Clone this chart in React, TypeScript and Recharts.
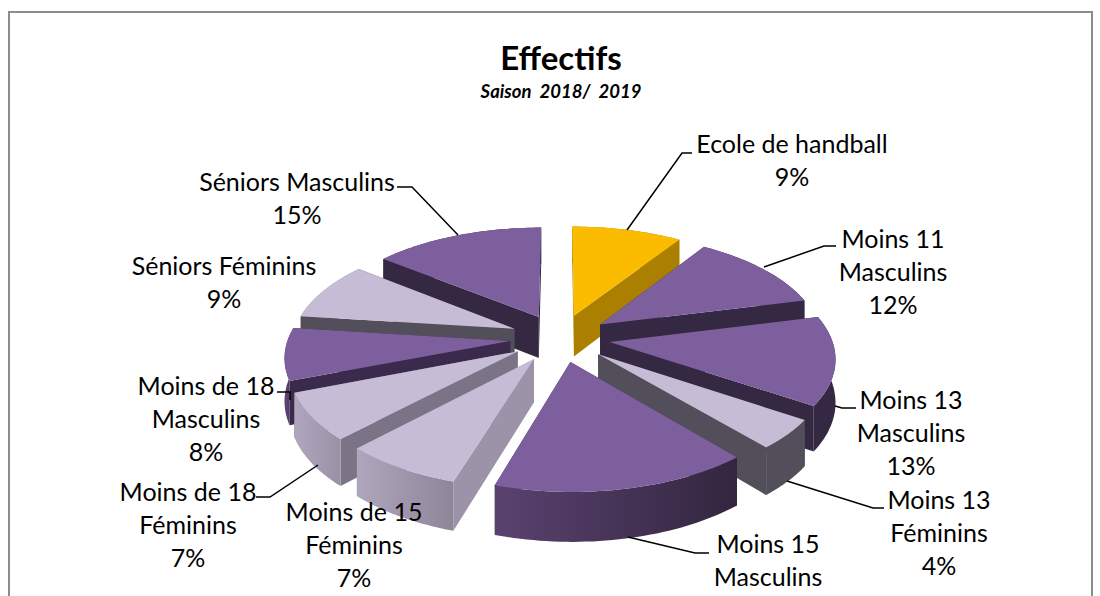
import React from "react";
import { PieChart, Pie } from "recharts";

const categories = [
  "Ecole de handball",
  "Moins 11\nMasculins",
  "Moins 13\nMasculins",
  "Moins 13\nFéminins",
  "Moins 15\nMasculins",
  "Moins de 15\nFéminins",
  "Moins de 18\nFéminins",
  "Moins de 18\nMasculins",
  "Séniors Féminins",
  "Séniors Masculins",
];
// Slice widths as measured on the picture, and the rounded percentages it prints
const shares = [9.2, 11.9, 13.2, 4.4, 16.0, 7.4, 7.0, 7.8, 8.7, 14.3];
const percentLabels = [9, 12, 13, 4, 16, 7, 7, 8, 9, 15];

const topColors = ["#FBBC00", "#7E5F9D", "#7E5F9D", "#C6BCD6", "#7E5F9D", "#C6BCD6", "#C6BCD6", "#7E5F9D", "#C6BCD6", "#7E5F9D"];
const cutColors = ["#AB8000", "#352842", "#352842", "#524E5A", "#352842", "#9C93A8", "#7A7486", "#3A2A4C", "#524E5A", "#352842"];
const wallFrom = ["#AB8000", "#352842", "#352842", "#524E5A", "#5A4270", "#AFA6BD", "#B0A7BE", "#5B4577", "#8F8599", "#352842"];
const wallTo = ["#AB8000", "#352842", "#352842", "#524E5A", "#33263F", "#8F8599", "#9A90A6", "#4A3763", "#8F8599", "#352842"];

// Label anchors: centre x, first-line centre y
const labelX = [792, 893, 911, 939, 768, 354, 188, 206, 224, 297];
const labelY = [143, 238, 399, 499, 543, 511, 491, 385, 265, 181];
const leaders: number[][][] = [
  [[627, 230], [682, 153], [692, 153]],
  [[764, 267], [824, 246], [836, 246]],
  [[835, 406], [842, 408], [856, 408]],
  [[787, 481], [873, 508], [884, 508]],
  [[628, 537], [695, 553], [709, 553]],
  [],
  [[318, 465], [270, 497], [256, 497]],
  [[277, 392], [290, 392], [290, 400]],
  [],
  [[458, 235], [412, 187], [397, 187]],
];

const FONT = "Lato, Carlito, sans-serif";
const LINE = 33;
const TILT = 0.478;
const PERSP = 0.13;
const EXPLODE = 50;
const DEPTH = 42;
const RAD = Math.PI / 180;

const table = categories.map((name, i) => ({ name, value: shares[i], i }));
const reversedTable = [...table].reverse();

type Pt = [number, number];
function geometry(p: any) {
  const { cx, cy, outerRadius: R, startAngle, endAngle } = p;
  const mid = (startAngle + endAngle) / 2;
  const ox = EXPLODE * Math.cos(mid * RAD);
  const oy = -EXPLODE * Math.sin(mid * RAD);
  const project = (X: number, Y: number, z: number): Pt => {
    const s = 1 / (1 - (PERSP * Y) / R);
    return [cx + X * s, cy + Y * s * TILT + z * s];
  };
  const ground: Pt[] = [];
  const steps = 40;
  for (let k = 0; k <= steps; k++) {
    const a = (startAngle + ((endAngle - startAngle) * k) / steps) * RAD;
    ground.push([ox + R * Math.cos(a), oy - R * Math.sin(a)]);
  }
  return { project, ground, apex: [ox, oy] as Pt };
}
const toPath = (pts: Pt[]) => "M" + pts.map((q) => q[0].toFixed(1) + "," + q[1].toFixed(1)).join("L") + "Z";
const idx = (p: any): number => p.i ?? p.payload?.i ?? 0;

function makeWalls(p: any) {
  const i = idx(p);
  const { project, ground, apex } = geometry(p);
  const quad = (a: Pt, b: Pt): Pt[] => [project(a[0], a[1], 0), project(b[0], b[1], 0), project(b[0], b[1], DEPTH), project(a[0], a[1], DEPTH)];
  const first = ground[0];
  const last = ground[ground.length - 1];
  const arcTop = ground.map((g) => project(g[0], g[1], 0));
  const arcBottom = ground.map((g) => project(g[0], g[1], DEPTH)).reverse();
  const arcPts = [...arcTop, ...arcBottom];
  const xs = arcPts.map((q) => q[0]);
  const gid = "wall-" + i;
  const arcY = ground.reduce((s, g) => s + g[1], 0) / ground.length;
  const faces = [
    { y: (apex[1] + first[1]) / 2, d: toPath(quad(apex, first)), fill: cutColors[i] },
    { y: (apex[1] + last[1]) / 2, d: toPath(quad(apex, last)), fill: cutColors[i] },
    { y: arcY, d: toPath(arcPts), fill: `url(#${gid})` },
  ].sort((a, b) => a.y - b.y);
  return (
    <g>
      <defs>
        <linearGradient id={gid} gradientUnits="userSpaceOnUse" x1={Math.min(...xs)} x2={Math.max(...xs)} y1={0} y2={0}>
          <stop offset="0" stopColor={wallFrom[i]} />
          <stop offset="1" stopColor={wallTo[i]} />
        </linearGradient>
      </defs>
      {faces.map((f, k) => (
        <path key={k} d={f.d} fill={f.fill} />
      ))}
    </g>
  );
}
const LeftWalls = (p: any) => (idx(p) >= 5 ? makeWalls(p) : <g />);
const RightWalls = (p: any) => (idx(p) < 5 ? makeWalls(p) : <g />);
const TopFace = (p: any) => {
  const { project, ground, apex } = geometry(p);
  const pts = [project(apex[0], apex[1], 0), ...ground.map((g) => project(g[0], g[1], 0))];
  return <path d={toPath(pts)} fill={topColors[idx(p)]} />;
};

const SliceLabel = (p: any) => {
  const i = idx(p);
  const lines = [...categories[i].split("\n"), percentLabels[i] + "%"];
  return (
    <g>
      {leaders[i].length > 0 && (
        <polyline points={leaders[i].map((q) => q.join(",")).join(" ")} fill="none" stroke="#000" strokeWidth={1.5} />
      )}
      <text textAnchor="middle" fontFamily={FONT} fontSize={25} fill="#000">
        {lines.map((l, k) =>
          labelY[i] + k * LINE < 590 ? (
            <tspan key={k} x={labelX[i]} y={labelY[i] + k * LINE} dominantBaseline="central">
              {l}
            </tspan>
          ) : null
        )}
      </text>
    </g>
  );
};

const pieGeom = { dataKey: "value", nameKey: "name", cx: 560, cy: 338, innerRadius: 0, outerRadius: 222, stroke: "none", isAnimationActive: false, labelLine: false };

export default function App() {
  return (
    <div style={{ position: "absolute", left: 0, top: 0, width: 1100, height: 596, overflow: "hidden", background: "#fff" }}>
      <div style={{ position: "absolute", left: 8, top: 11, width: 1081, height: 640, border: "2px solid #8C8C8C" }} />
      <div style={{ position: "absolute", left: 0, top: 0 }}>
        <PieChart width={1100} height={596} margin={{ top: 0, right: 0, bottom: 0, left: 0 }}>
          <text x={561} y={57} textAnchor="middle" dominantBaseline="central" fontFamily={FONT} fontWeight={700} fontSize={33} fill="#000">
            Effectifs
          </text>
          <text x={561} y={91} textAnchor="middle" dominantBaseline="central" fontFamily={FONT} fontWeight={700} fontStyle="italic" fontSize={18.5} wordSpacing={4} fill="#000">
            Saison 2018/ 2019
          </text>
          <Pie {...pieGeom} data={reversedTable} startAngle={-270} endAngle={90} shape={LeftWalls} />
          <Pie {...pieGeom} data={table} startAngle={90} endAngle={-270} shape={RightWalls} />
          <Pie {...pieGeom} data={table} startAngle={90} endAngle={-270} shape={TopFace} label={SliceLabel} />
        </PieChart>
      </div>
    </div>
  );
}
